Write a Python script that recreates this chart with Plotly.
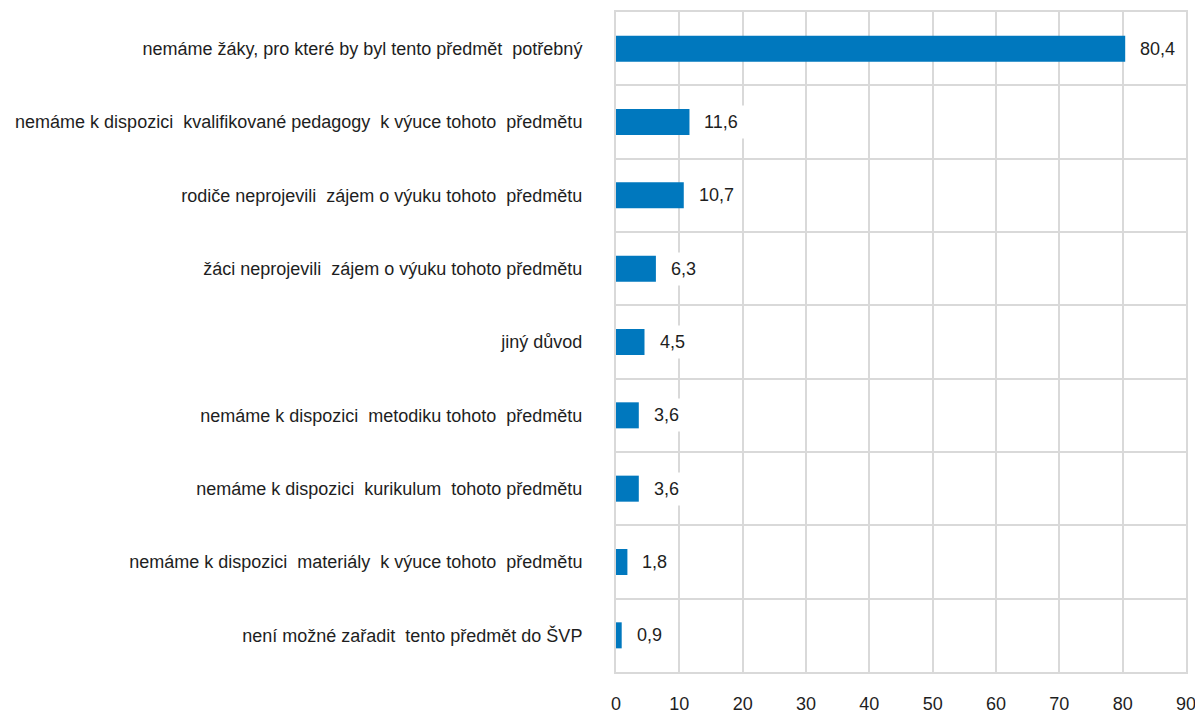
import plotly.graph_objects as go

categories = [
    "nemáme žáky, pro které by byl tento předmět  potřebný",
    "nemáme k dispozici  kvalifikované pedagogy  k výuce tohoto  předmětu",
    "rodiče neprojevili  zájem o výuku tohoto  předmětu",
    "žáci neprojevili  zájem o výuku tohoto předmětu",
    "jiný důvod",
    "nemáme k dispozici  metodiku tohoto  předmětu",
    "nemáme k dispozici  kurikulum  tohoto předmětu",
    "nemáme k dispozici  materiály  k výuce tohoto  předmětu",
    "není možné zařadit  tento předmět do ŠVP",
]
values = [80.4, 11.6, 10.7, 6.3, 4.5, 3.6, 3.6, 1.8, 0.9]
value_labels = ["80,4", "11,6", "10,7", "6,3", "4,5", "3,6", "3,6", "1,8", "0,9"]
x_ticks = [0, 10, 20, 30, 40, 50, 60, 70, 80, 90]

FONT = "Liberation Sans Narrow, Liberation Sans, Arial, sans-serif"
BAR = "#0078BE"
GRID = "#D9D9D9"
TEXT = "#1E1E1E"
FS = 18

fig = go.Figure(go.Bar(
    x=values, y=categories, orientation="h",
    marker=dict(color=BAR, line=dict(width=0)),
    hoverinfo="skip",
))

for c, v, t in zip(categories, values, value_labels):
    fig.add_annotation(
        x=v, y=c, text=t, showarrow=False, xanchor="left", xshift=8,
        bgcolor="white", borderpad=6,
        font=dict(family=FONT, size=FS, color=TEXT),
    )

# page body has an 8px margin, so the figure is 8px smaller and offsets shifted
fig.update_layout(
    width=1195, height=707,
    margin=dict(l=608, r=17, t=4, b=43, autoexpand=False),
    paper_bgcolor="white", plot_bgcolor="white",
    bargap=0.645, showlegend=False,
    font=dict(family=FONT, size=FS, color=TEXT),
)
fig.update_xaxes(
    range=[0, 90], tickvals=x_ticks, ticktext=[str(t) for t in x_ticks],
    showgrid=True, gridcolor=GRID, gridwidth=2,
    showline=True, linecolor=GRID, linewidth=2, mirror=True,
    zeroline=False, ticks="", automargin=False, ticklabelstandoff=14,
    tickfont=dict(family=FONT, size=FS, color=TEXT),
)
fig.update_yaxes(
    type="category", autorange="reversed", tickson="boundaries",
    showgrid=True, gridcolor=GRID, gridwidth=2,
    showline=True, linecolor=GRID, linewidth=2, mirror=True,
    ticks="", ticklabelstandoff=28, automargin=False,
    tickfont=dict(family=FONT, size=FS, color=TEXT),
)

fig.write_html("out.html")
